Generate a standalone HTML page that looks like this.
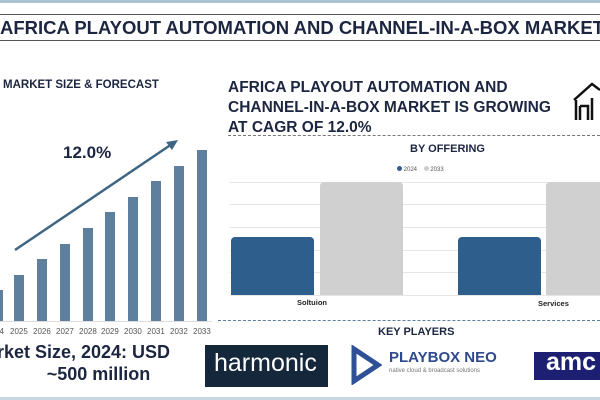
<!DOCTYPE html><html><head><style>
body{margin:0;width:600px;height:400px;overflow:hidden;background:#fff;font-family:"Liberation Sans",sans-serif;position:relative}
.a{position:absolute;white-space:nowrap}
.b{position:absolute;background:#5f7f9f;width:10px}
.y{position:absolute;top:327px;font-size:8px;color:#555}
.g{position:absolute;left:230px;width:370px;height:1px;background:#e6e6e6}
</style></head><body>
<div class="a" style="left:0;top:0;width:600px;height:3px;background:#a9c3d3"></div>
<div class="a" style="left:0;top:14px;width:600px;height:1px;background:#555"></div>
<div class="a" style="left:0;top:40px;width:600px;height:1px;background:#555"></div>
<div class="a" style="left:0;top:17px;font-size:18.5px;font-weight:bold;color:#1c2640">AFRICA PLAYOUT AUTOMATION AND CHANNEL-IN-A-BOX MARKET</div>
<div class="a" style="left:3px;top:79px;font-size:11.5px;font-weight:bold;color:#1c2640">MARKET SIZE &amp; FORECAST</div>
<div class="a" style="left:228px;top:78px;font-size:15.5px;font-weight:bold;color:#1c2640;line-height:20px">AFRICA PLAYOUT AUTOMATION AND<br>CHANNEL-IN-A-BOX MARKET IS GROWING<br>AT CAGR OF 12.0%</div>
<div class="a" style="left:228px;top:135px;width:372px;border-top:1px dashed #777"></div>
<svg class="a" style="left:572px;top:82px" width="28" height="40"><path d="M2 18 L20 2 L28 8 M4 18 V38 M8 24 V38 M8 24 H16 V38 M20 16 V38" stroke="#111" stroke-width="2.5" fill="none"/></svg>
<div class="a" style="left:63px;top:143px;font-size:17px;font-weight:bold;color:#1c2640">12.0%</div>
<svg class="a" style="left:0;top:130px" width="200" height="130"><line x1="15" y1="120" x2="172" y2="14" stroke="#3e6582" stroke-width="2.5"/><path d="M178 10 L166 12 L172 20 Z" fill="#3e6582"/></svg>
<div class="b" style="left:0;width:3px;top:290px;height:31px"></div>
<div class="b" style="left:14px;top:275px;height:46px"></div>
<div class="b" style="left:37px;top:259px;height:62px"></div>
<div class="b" style="left:60px;top:244px;height:77px"></div>
<div class="b" style="left:83px;top:228px;height:93px"></div>
<div class="b" style="left:105px;top:212px;height:109px"></div>
<div class="b" style="left:128px;top:197px;height:124px"></div>
<div class="b" style="left:151px;top:181px;height:140px"></div>
<div class="b" style="left:174px;top:166px;height:155px"></div>
<div class="b" style="left:197px;top:150px;height:171px"></div>
<div class="a" style="left:0;top:321px;width:212px;height:1px;background:#ddd"></div>
<div class="y" style="left:-5px">24</div><div class="y" style="left:10px">2025</div><div class="y" style="left:33px">2026</div><div class="y" style="left:56px">2027</div><div class="y" style="left:79px">2028</div><div class="y" style="left:101px">2029</div><div class="y" style="left:124px">2030</div><div class="y" style="left:147px">2031</div><div class="y" style="left:170px">2032</div><div class="y" style="left:193px">2033</div>
<div class="a" style="left:0;top:341px;width:197px;text-align:center;font-size:18px;font-weight:bold;color:#1c2640;line-height:22px"><span style="margin-left:-30px">rket Size, 2024: USD</span><br>~500 million</div>
<div class="a" style="left:410px;top:143px;font-size:11px;font-weight:bold;color:#1c2640">BY OFFERING</div>
<div class="a" style="left:397px;top:166px;font-size:6px;color:#555"><span style="display:inline-block;width:5px;height:5px;border-radius:50%;background:#2e5e8c"></span> 2024 &nbsp;&nbsp; <span style="display:inline-block;width:5px;height:5px;border-radius:50%;background:#ccc"></span> 2033</div>
<div class="g" style="top:182px"></div><div class="g" style="top:204px"></div><div class="g" style="top:227px"></div><div class="g" style="top:250px"></div><div class="g" style="top:272px"></div><div class="g" style="top:295px"></div>
<div class="a" style="left:231px;top:237px;width:83px;height:58px;background:#2e5e8c;border-radius:4px 4px 0 0"></div>
<div class="a" style="left:320px;top:182px;width:83px;height:113px;background:#d0d0d0;border-radius:4px 4px 0 0"></div>
<div class="a" style="left:458px;top:237px;width:83px;height:58px;background:#2e5e8c;border-radius:4px 4px 0 0"></div>
<div class="a" style="left:546px;top:182px;width:60px;height:113px;background:#d0d0d0;border-radius:4px 4px 0 0"></div>
<div class="a" style="left:297px;top:298px;font-size:7.5px;font-weight:bold;color:#222">Soltuion</div>
<div class="a" style="left:538px;top:299px;font-size:7.5px;font-weight:bold;color:#222">Services</div>
<div class="a" style="left:218px;top:320px;width:382px;border-top:1.5px dashed #5f7f9f"></div>
<div class="a" style="left:378px;top:326px;font-size:11px;font-weight:bold;color:#1c2640">KEY PLAYERS</div>
<div class="a" style="left:205px;top:345px;width:123px;height:42px;background:#14273b"></div>
<div class="a" style="left:214px;top:349px;font-size:25px;color:#fff">harmonic</div>
<svg class="a" style="left:350px;top:345px" width="32" height="40"><path d="M4 4 L28 20 L4 36 Z" fill="none" stroke="#2e5096" stroke-width="5"/></svg>
<div class="a" style="left:389px;top:349px;font-size:15px;font-weight:bold;color:#2e4a8c">PLAYBOX NEO</div>
<div class="a" style="left:389px;top:368px;font-size:6px;color:#777">native cloud &amp; broadcast solutions</div>
<div class="a" style="left:534px;top:352px;width:66px;height:28px;background:#1d1f73"></div>
<div class="a" style="left:546px;top:348px;font-size:25px;font-weight:bold;color:#fff">amc</div>
<div class="a" style="left:0;top:397px;width:600px;height:3px;background:#c9d6df"></div>
</body></html>
